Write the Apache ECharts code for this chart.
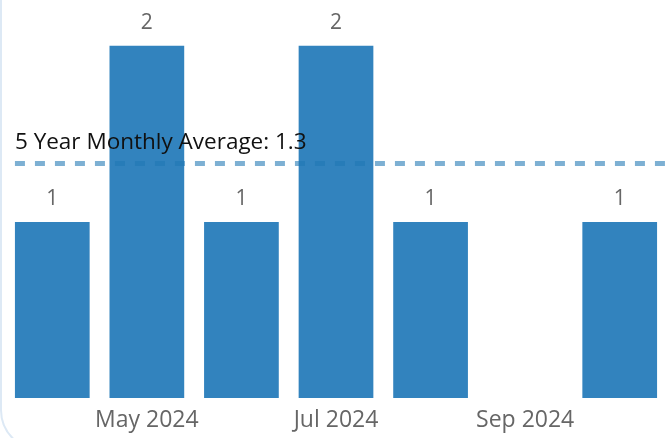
<!DOCTYPE html>
<html>
<head>
<meta charset="utf-8">
<script src="https://cdn.jsdelivr.net/npm/echarts@6/dist/echarts.min.js"></script>
<style>
html,body{margin:0;padding:0;background:#fff;}
#chart{width:667px;height:438px;}
</style>
</head>
<body>
<div id="chart"></div>
<script>
var categories = ['Apr 2024','May 2024','Jun 2024','Jul 2024','Aug 2024','Sep 2024','Oct 2024'];
var values = [1, 2, 1, 2, 1, null, 1];
var averageValue = 1.335;
var averageLabel = '5 Year Monthly Average: 1.3';

var chart = echarts.init(document.getElementById('chart'), null, {renderer:'canvas'});
var FONT = '"Open Sans", "Noto Sans", sans-serif';
chart.setOption({
  animation: false,
  textStyle: {fontFamily: FONT},
  graphic: [{
    type: 'rect', z: 100, silent: true,
    shape: {x: 1, y: -40, width: 720, height: 490, r: 40},
    style: {fill: 'none', stroke: '#dde9f5', lineWidth: 2}
  }],
  grid: {left: 5, right: -2, top: 0, bottom: 40, containLabel: false},
  xAxis: [{
    type: 'category',
    data: categories,
    axisLine: {show: false},
    axisTick: {show: false},
    axisLabel: {
      interval: function (i) { return i % 2 === 1; },
      color: '#666', fontSize: 23, margin: 11, fontFamily: FONT
    }
  }, {
    type: 'value', min: -0.5, max: 6.5, show: false, splitLine: {show: false}
  }],
  yAxis: {
    type: 'value', min: 0, max: 2.26,
    show: false,
    splitLine: {show: false}
  },
  series: [{
    type: 'bar',
    data: values,
    barWidth: '79%',
    itemStyle: {color: '#3283be'},
    label: {show: true, position: 'top', distance: 12, color: '#666', fontSize: 21, fontFamily: FONT}
  }, {
    type: 'line',
    xAxisIndex: 1,
    data: [],
    z: 10,
    markLine: {
      silent: true,
      symbol: 'none',
      lineStyle: {color: 'rgba(31,119,180,0.58)', type: [10, 10], width: 5},
      label: {
        show: true, position: 'insideStartTop', formatter: averageLabel,
        color: '#111', fontSize: 22.5, distance: [0, 9], fontFamily: FONT
      },
      data: [[{coord: [-0.395, averageValue]}, {coord: [6.5, averageValue]}]]
    }
  }]
});
</script>
</body>
</html>
